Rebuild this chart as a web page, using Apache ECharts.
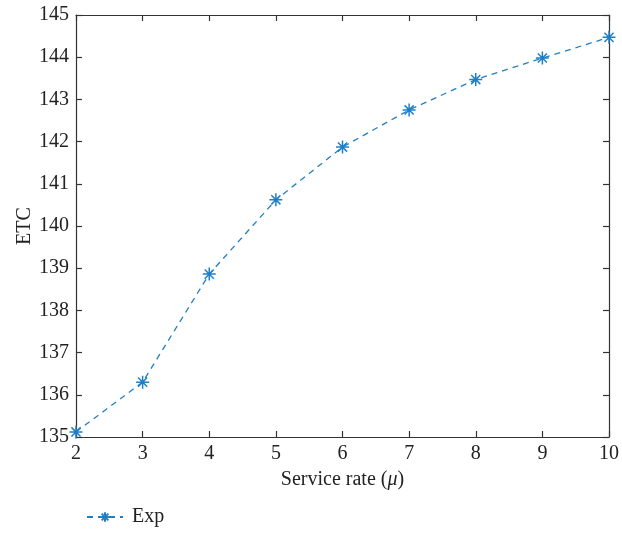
<!DOCTYPE html>
<html><head><meta charset="utf-8">
<script src="https://cdn.jsdelivr.net/npm/echarts@6/dist/echarts.min.js"></script>
<style>html,body{margin:0;padding:0;background:#fff}#c{width:622px;height:533px}</style>
</head><body><div id="c"></div>
<script>
const xValues = [2, 3, 4, 5, 6, 7, 8, 9, 10];
const expValues = [135.12, 136.30, 138.86, 140.62, 141.87, 142.75, 143.47, 143.98, 144.47];
const seriesName = 'Exp';
const xTitle = 'Service rate';
const yTitle = 'ETC';

const FONT = '"Liberation Serif", "DejaVu Serif", serif';
const AX = '#333333';
const BLUE = '#1f7fc6';
const FS = 20;
const star = 'path://M0,5L10,5M5,0L5,10M1.5,1.5L8.5,8.5M1.5,8.5L8.5,1.5';

const chart = echarts.init(document.getElementById('c'), null, {renderer: 'canvas'});
const axisCommon = {
  axisLine: {show: true, lineStyle: {color: AX, width: 1.2}},
  axisTick: {show: true, inside: true, length: 6, lineStyle: {color: AX, width: 1.2}},
  splitLine: {show: false}
};
chart.setOption({
  animation: false,
  grid: {left: 76, right: 10, top: 15, bottom: 96},
  legend: {
    left: 81, top: 502, itemWidth: 36, itemHeight: 12, itemGap: 10,
    textStyle: {fontFamily: FONT, fontSize: FS, color: '#222', padding: [0, 0, 0, 4]},
    data: [seriesName]
  },
  xAxis: [
    Object.assign({
      type: 'value', min: 2, max: 10, interval: 1, position: 'bottom',
      name: xTitle + ' ({i|μ})', nameLocation: 'middle', nameGap: 33,
      nameMoveOverlap: false,
      nameTextStyle: {fontFamily: FONT, fontSize: FS, color: '#222',
        rich: {i: {fontFamily: FONT, fontStyle: 'italic', fontSize: FS, color: '#222'}}},
      axisLabel: {fontFamily: FONT, fontSize: FS, color: '#222', margin: 7}
    }, axisCommon),
    Object.assign({
      type: 'value', min: 2, max: 10, interval: 1, position: 'top',
      axisLabel: {show: false}
    }, axisCommon)
  ],
  yAxis: [
    Object.assign({
      type: 'value', min: 135, max: 145, interval: 1, position: 'left',
      name: yTitle, nameLocation: 'middle', nameGap: 41,
      nameMoveOverlap: false,
      nameTextStyle: {fontFamily: FONT, fontSize: FS, color: '#222'},
      axisLabel: {fontFamily: FONT, fontSize: FS, color: '#222', margin: 7}
    }, axisCommon),
    Object.assign({
      type: 'value', min: 135, max: 145, interval: 1, position: 'right',
      axisLabel: {show: false}
    }, axisCommon)
  ],
  series: [{
    name: seriesName,
    type: 'line',
    data: xValues.map((x, i) => [x, expValues[i]]),
    symbol: star,
    symbolSize: 13,
    showAllSymbol: true,
    clip: false,
    itemStyle: {color: BLUE, borderColor: BLUE, borderWidth: 1.5},
    lineStyle: {color: BLUE, width: 1.3, type: [6, 5]}
  }]
});
</script>
</body></html>
